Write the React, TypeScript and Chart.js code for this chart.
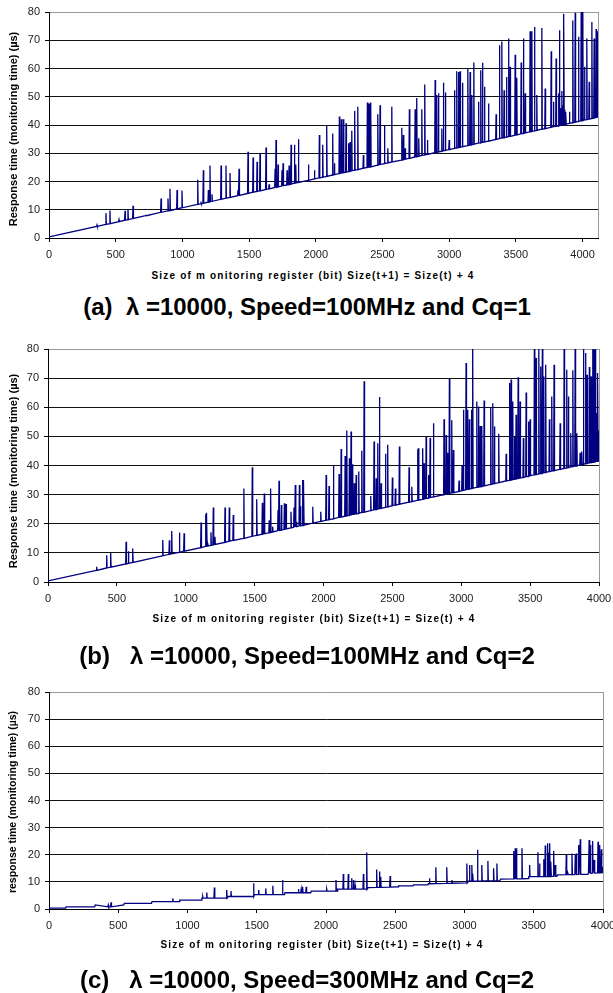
import { useEffect, useRef } from "react";
import { Chart, registerables } from "chart.js";

Chart.register(...registerables);

const FONT = "'Liberation Sans', Arial, sans-serif";

// Axis tick labels (shared by all three panels)
const xTickLabels = [0, 500, 1000, 1500, 2000, 2500, 3000, 3500, 4000];
const yTickLabels = [0, 10, 20, 30, 40, 50, 60, 70, 80];

// ---------- Panel (a): baseline vertices [size, time] and spikes [size, floor, peak]
const aBase: [number, number][] = [[0, 0.4], [4116, 42.8]];
const aSpikes: [number, number, number][] = [
  [360, 4.1, 4.6], [427, 4.8, 8.8], [457, 5.1, 9.7], [525, 5.8, 6.5], [570, 6.3, 9.6], [592, 6.5, 10.3],
  [630, 6.9, 11.4], [727, 7.9, 8.0], [840, 9.1, 14.0], [892, 9.6, 14.0], [907, 9.7, 17.4], [960, 10.3, 17.0],
  [997, 10.7, 16.8], [1115, 11.9, 20.6], [1140, 12.1, 12.5], [1157, 12.3, 24.0], [1195, 12.7, 17.0],
  [1207, 12.8, 25.7], [1222, 13.0, 15.5], [1290, 13.7, 25.7], [1327, 14.1, 25.7], [1357, 14.4, 23.0],
  [1417, 15.0, 17.0], [1425, 15.1, 24.5], [1492, 15.8, 30.5], [1530, 16.2, 28.5], [1560, 16.5, 27.0],
  [1582, 16.7, 30.0], [1627, 17.2, 32.0], [1650, 17.4, 19.0], [1695, 17.9, 24.5], [1702, 17.9, 34.7],
  [1717, 18.1, 26.0], [1747, 18.4, 24.0], [1755, 18.5, 26.5], [1785, 18.8, 24.0], [1800, 18.9, 25.7],
  [1815, 19.1, 33.0], [1840, 19.4, 33.0], [1850, 19.5, 26.0], [1870, 19.7, 35.0], [1945, 20.4, 26.0],
  [1990, 20.9, 24.0], [2027, 21.3, 36.5], [2052, 21.5, 33.0], [2082, 21.8, 39.8], [2127, 22.3, 37.0],
  [2140, 22.4, 26.5], [2177, 22.8, 43.0], [2192, 23.0, 42.0], [2207, 23.1, 42.0], [2227, 23.3, 40.6],
  [2245, 23.5, 33.5], [2257, 23.6, 34.0], [2270, 23.8, 38.0], [2292, 24.0, 45.0], [2315, 24.2, 46.5],
  [2357, 24.7, 29.4], [2387, 25.0, 48.0], [2400, 25.1, 47.6], [2412, 25.2, 48.0], [2465, 25.8, 43.8],
  [2482, 26.0, 47.0], [2515, 26.3, 40.0], [2540, 26.6, 31.8], [2570, 26.9, 46.5], [2645, 27.6, 39.0],
  [2657, 27.8, 36.5], [2670, 27.9, 31.8], [2702, 28.2, 45.6], [2745, 28.7, 45.6], [2757, 28.8, 49.6],
  [2772, 29.0, 35.3], [2795, 29.2, 45.6], [2817, 29.4, 54.3], [2837, 29.6, 34.7], [2895, 30.2, 55.9],
  [2907, 30.3, 50.6], [2920, 30.5, 51.2], [2945, 30.7, 38.8], [2957, 30.9, 55.0], [2972, 31.0, 51.5],
  [3000, 31.3, 34.7], [3040, 31.7, 52.3], [3057, 31.9, 59.0], [3070, 32.0, 58.8], [3082, 32.1, 59.0],
  [3100, 32.3, 55.0], [3140, 32.7, 60.2], [3157, 32.9, 58.8], [3170, 33.0, 50.6], [3185, 33.2, 62.1],
  [3220, 33.6, 48.2], [3237, 33.7, 59.4], [3250, 33.9, 62.0], [3265, 34.0, 53.5], [3295, 34.3, 47.6],
  [3352, 34.9, 43.8], [3377, 35.2, 68.2], [3395, 35.4, 69.6], [3412, 35.5, 52.3], [3430, 35.7, 57.0],
  [3445, 35.9, 70.6], [3457, 36.0, 60.6], [3495, 36.4, 64.9], [3507, 36.5, 56.7], [3540, 36.9, 62.1],
  [3557, 37.0, 70.6], [3570, 37.2, 51.2], [3607, 37.6, 73.2], [3620, 37.7, 73.2], [3640, 37.9, 74.7],
  [3657, 38.1, 50.6], [3695, 38.5, 74.3], [3720, 38.7, 52.9], [3765, 39.2, 66.1], [3782, 39.4, 48.2],
  [3802, 39.6, 63.5], [3820, 39.7, 51.2], [3827, 39.8, 73.5], [3835, 39.9, 46.0], [3845, 40.0, 52.0],
  [3852, 40.1, 47.0], [3860, 40.2, 79.4], [3868, 40.2, 45.5], [3875, 40.3, 44.7], [3902, 40.6, 44.7],
  [3927, 40.8, 77.0], [3945, 41.0, 79.7], [3970, 41.3, 71.2], [3990, 41.5, 82.0], [4002, 41.6, 82.0],
  [4015, 41.8, 60.6], [4032, 41.9, 70.6], [4050, 42.1, 55.3], [4070, 42.3, 76.5], [4087, 42.5, 70.6],
  [4102, 42.7, 74.0], [4113, 42.8, 73.2],
];

// ---------- Panel (b)
const bBase: [number, number][] = [[0, 0.4], [3996, 41.6], [4000, 52.0]];
const bSpikes: [number, number, number][] = [
  [353, 4.0, 5.2], [426, 4.8, 9.2], [455, 5.1, 10.0], [567, 6.2, 13.8], [584, 6.4, 10.6], [615, 6.7, 11.5],
  [833, 9.0, 14.4], [881, 9.5, 14.3], [898, 9.7, 17.5], [954, 10.2, 17.0], [988, 10.6, 16.7],
  [1111, 11.8, 20.4], [1145, 12.2, 23.3], [1152, 12.3, 23.8], [1161, 12.4, 13.2], [1183, 12.6, 17.1],
  [1200, 12.8, 25.6], [1212, 12.9, 15.5], [1285, 13.6, 25.6], [1316, 14.0, 25.6], [1345, 14.3, 23.0],
  [1422, 15.0, 32.1], [1483, 15.7, 39.4], [1515, 16.0, 28.4], [1556, 16.4, 27.2], [1570, 16.6, 30.4],
  [1606, 16.9, 21.2], [1616, 17.0, 32.1], [1631, 17.2, 19.0], [1670, 17.6, 24.7], [1677, 17.7, 34.8],
  [1694, 17.8, 26.4], [1716, 18.1, 27.0], [1728, 18.2, 26.8], [1764, 18.6, 24.1], [1786, 18.8, 25.6],
  [1795, 18.9, 33.3], [1803, 19.0, 20.7], [1825, 19.2, 33.3], [1832, 19.3, 26.0], [1849, 19.4, 35.0],
  [1856, 19.5, 35.0], [1922, 20.2, 25.8], [1980, 20.8, 24.1], [2019, 21.2, 36.7], [2040, 21.4, 33.0],
  [2072, 21.7, 39.8], [2113, 22.2, 37.1], [2128, 22.3, 45.7], [2157, 22.6, 43.3], [2169, 22.7, 52.0],
  [2188, 22.9, 42.5], [2200, 23.1, 51.7], [2212, 23.2, 40.4], [2224, 23.3, 33.9], [2237, 23.4, 36.7],
  [2256, 23.6, 37.9], [2278, 23.9, 45.1], [2295, 24.0, 68.9], [2343, 24.5, 29.5], [2367, 24.8, 48.2],
  [2382, 24.9, 35.6], [2394, 25.1, 47.6], [2406, 25.2, 63.5], [2418, 25.3, 33.9], [2450, 25.6, 44.0],
  [2466, 25.8, 47.1], [2500, 26.2, 35.9], [2522, 26.4, 32.1], [2551, 26.7, 46.5], [2621, 27.4, 39.4],
  [2641, 27.6, 32.7], [2682, 28.0, 45.6], [2689, 28.1, 45.9], [2720, 28.4, 45.9], [2730, 28.5, 40.8],
  [2745, 28.7, 49.9], [2762, 28.8, 36.7], [2774, 29.0, 49.4], [2798, 29.2, 54.5], [2875, 30.0, 55.9],
  [2890, 30.2, 50.5], [2902, 30.3, 44.4], [2914, 30.4, 69.7], [2931, 30.6, 55.5], [2943, 30.7, 45.3],
  [2984, 31.1, 34.8], [3006, 31.4, 40.2], [3016, 31.5, 59.1], [3035, 31.7, 75.2], [3047, 31.8, 59.1],
  [3059, 31.9, 55.9], [3074, 32.1, 59.1], [3083, 32.2, 82.0], [3113, 32.5, 62.0], [3125, 32.6, 60.3],
  [3137, 32.7, 53.6], [3149, 32.8, 53.6], [3166, 33.0, 62.3], [3214, 33.5, 60.0], [3229, 33.7, 61.4],
  [3241, 33.8, 53.4], [3272, 34.1, 50.9], [3326, 34.7, 44.0], [3350, 34.9, 68.3], [3362, 35.0, 69.5],
  [3374, 35.2, 62.0], [3386, 35.3, 49.9], [3398, 35.4, 57.4], [3413, 35.6, 70.3], [3427, 35.7, 62.0],
  [3451, 35.9, 49.4], [3471, 36.2, 65.1], [3488, 36.3, 55.1], [3500, 36.5, 55.9], [3531, 36.8, 82.0],
  [3543, 36.9, 76.9], [3563, 37.1, 82.0], [3577, 37.2, 74.0], [3589, 37.4, 82.0], [3599, 37.5, 70.6],
  [3613, 37.6, 74.6], [3640, 37.9, 55.9], [3657, 38.1, 63.7], [3674, 38.2, 74.6], [3718, 38.7, 54.5],
  [3747, 39.0, 82.0], [3766, 39.2, 72.9], [3778, 39.3, 63.7], [3795, 39.5, 51.1], [3810, 39.6, 72.7],
  [3827, 39.8, 82.0], [3839, 39.9, 51.1], [3863, 40.2, 44.4], [3875, 40.3, 44.8], [3887, 40.4, 82.0],
  [3902, 40.6, 78.6], [3913, 40.7, 71.2], [3930, 40.9, 73.8], [3943, 41.0, 70.6], [3955, 41.1, 82.0],
  [3964, 41.2, 79.8], [3974, 41.3, 82.0], [3984, 41.4, 58.0], [3991, 41.5, 71.8],
];

// ---------- Panel (c): staircase baseline and spikes
const cBase: [number, number][] = [
  [0, 0.3], [120, 0.3], [124, 0.8], [330, 0.8], [334, 1.5], [540, 1.5], [544, 2.1], [740, 2.1], [744, 2.7],
  [940, 2.7], [944, 3.3], [1100, 3.3], [1104, 4.0], [1290, 4.0], [1294, 4.6], [1480, 4.6], [1484, 5.3],
  [1700, 5.3], [1704, 6.0], [1890, 6.0], [1894, 6.6], [2080, 6.6], [2084, 7.3], [2300, 7.3], [2304, 7.9],
  [2520, 8.2], [2524, 8.5], [2628, 8.5], [2632, 8.9], [2736, 8.9], [2740, 9.3], [3025, 9.6], [3029, 10.3],
  [3256, 10.4], [3260, 11.0], [3460, 11.2], [3464, 11.9], [3667, 12.0], [3671, 12.6], [3891, 12.8],
  [3895, 13.2], [4000, 13.4],
];
const cSpikes: [number, number, number][] = [
  [428, 0.8, 1.5], [448, 0.8, 2.5], [894, 2.7, 3.9], [1110, 4.0, 4.6], [1139, 4.0, 6.1], [1194, 4.0, 7.9],
  [1283, 4.0, 7.0], [1314, 4.6, 6.6], [1476, 4.6, 9.5], [1514, 5.3, 7.0], [1565, 5.3, 7.6], [1616, 5.3, 8.6],
  [1686, 5.3, 10.7], [1801, 6.0, 7.4], [1821, 6.0, 7.3], [1831, 6.0, 8.2], [1857, 6.0, 8.2], [2005, 6.6, 7.3],
  [2072, 6.6, 10.7], [2125, 7.3, 12.9], [2161, 7.3, 12.9], [2186, 7.3, 11.3], [2198, 7.3, 10.7],
  [2210, 7.3, 8.8], [2270, 7.3, 12.9], [2294, 7.3, 20.8], [2366, 8.0, 14.6], [2386, 8.0, 13.8],
  [2395, 8.0, 11.9], [2463, 8.1, 12.2], [2747, 9.3, 11.3], [2793, 9.35, 15.4], [2872, 9.45, 15.4],
  [2909, 9.5, 10.7], [3017, 9.6, 16.8], [3036, 10.3, 16.2], [3053, 10.3, 16.2], [3060, 10.3, 13.1],
  [3094, 10.3, 21.8], [3125, 10.35, 16.2], [3169, 10.35, 17.7], [3210, 10.4, 15.0], [3234, 10.4, 16.8],
  [3354, 11.1, 21.4], [3366, 11.1, 22.4], [3374, 11.1, 22.4], [3415, 11.15, 22.4], [3470, 11.9, 16.2],
  [3530, 11.9, 20.9], [3542, 11.95, 16.8], [3571, 11.95, 18.3], [3583, 11.95, 23.4], [3600, 11.95, 24.2],
  [3607, 11.95, 20.8], [3615, 11.95, 24.2], [3624, 12.0, 17.5], [3644, 12.0, 21.5], [3656, 12.0, 16.2],
  [3735, 12.65, 20.3], [3747, 12.65, 13.1], [3776, 12.7, 20.5], [3800, 12.7, 20.3], [3807, 12.7, 20.5],
  [3824, 12.75, 23.6], [3836, 12.75, 25.7], [3900, 13.2, 25.4], [3908, 13.2, 23.6], [3925, 13.25, 25.1],
  [3937, 13.25, 18.1], [3964, 13.3, 24.8], [3976, 13.3, 23.6], [3988, 13.35, 22.0], [3998, 13.4, 15.6],
];

type Pt = { x: number; y: number };

function buildSeries(base: [number, number][], spikes: [number, number, number][]): Pt[] {
  const pts: Pt[] = base.map(([x, y]) => ({ x, y }));
  spikes.forEach(([x, floor, peak]) => {
    pts.push({ x: x - 3, y: floor }, { x, y: peak }, { x: x + 3, y: floor });
  });
  pts.sort((p, q) => p.x - q.x);
  return pts;
}

const rightBorder = {
  id: "rightBorder",
  afterDraw(chart: any) {
    const { ctx, chartArea } = chart;
    ctx.save();
    ctx.strokeStyle = "#9a9a9a";
    ctx.lineWidth = 1;
    ctx.beginPath();
    ctx.moveTo(Math.round(chartArea.right) + 0.5, chartArea.top);
    ctx.lineTo(Math.round(chartArea.right) + 0.5, chartArea.bottom);
    ctx.stroke();
    ctx.restore();
  },
};

type PanelProps = {
  top: number;
  height: number;
  padTop: number;
  padRight: number;
  axisLeft: number;
  axisBottomH: number;
  xMax: number;
  data: Pt[];
};

function Panel({ top, height, padTop, padRight, axisLeft, axisBottomH, xMax, data }: PanelProps) {
  const ref = useRef<HTMLCanvasElement | null>(null);
  useEffect(() => {
    if (!ref.current) return;
    const chart = new Chart(ref.current, {
      type: "line",
      data: {
        datasets: [
          {
            data: data as any,
            borderColor: "#000080",
            borderWidth: 1.3,
            pointRadius: 0,
            tension: 0,
            fill: false,
          },
        ],
      },
      options: {
        animation: false,
        responsive: false,
        events: [],
        plugins: { legend: { display: false }, tooltip: { enabled: false } },
        layout: { padding: { top: padTop, right: padRight, left: 0, bottom: 0 } },
        scales: {
          x: {
            type: "linear",
            min: 0,
            max: xMax,
            afterBuildTicks: (s: any) => {
              s.ticks = xTickLabels.map((v) => ({ value: v }));
            },
            afterFit: (s: any) => {
              s.height = axisBottomH;
              s.paddingLeft = 0;
              s.paddingRight = 0;
            },
            grid: { drawOnChartArea: false, drawTicks: true, tickLength: 4, color: "#000" },
            border: { color: "#000", width: 1 },
            ticks: {
              font: { family: FONT, size: 11 },
              color: "#222",
              padding: 6,
              maxRotation: 0,
              autoSkip: false,
              callback: (v: any) => String(v),
            },
          },
          y: {
            min: 0,
            max: 80,
            afterBuildTicks: (s: any) => {
              s.ticks = yTickLabels.map((v) => ({ value: v }));
            },
            afterFit: (s: any) => {
              s.width = axisLeft;
              s.paddingTop = 0;
              s.paddingBottom = 0;
            },
            grid: {
              color: (c: any) => (c.tick && c.tick.value === 80 ? "#9a9a9a" : "#111"),
              tickColor: "#000",
              tickLength: 4,
              lineWidth: 1,
            },
            border: { color: "#000", width: 1 },
            ticks: {
              font: { family: FONT, size: 11 },
              color: "#222",
              padding: 5,
              autoSkip: false,
              callback: (v: any) => String(v),
            },
          },
        },
      },
      plugins: [rightBorder],
    });
    return () => chart.destroy();
  }, []);
  return (
    <canvas
      ref={ref}
      width={613}
      height={height}
      style={{ position: "absolute", left: 0, top, width: 613, height }}
    />
  );
}

const textBase: React.CSSProperties = {
  position: "absolute",
  whiteSpace: "pre",
  lineHeight: 1,
  color: "#000",
  fontFamily: FONT,
  fontWeight: "bold",
};

function Label({ x, y, text, size, spacing = 0, rotate = false }: { x: number; y: number; text: string; size: number; spacing?: number; rotate?: boolean }) {
  return (
    <div
      style={{
        ...textBase,
        left: x,
        top: y,
        fontSize: size,
        letterSpacing: spacing,
        transform: `translate(-50%, -50%)${rotate ? " rotate(-90deg)" : ""}`,
      }}
    >
      {text}
    </div>
  );
}

const xTitle = "Size of m onitoring register (bit) Size(t+1) = Size(t) + 4";

export default function App() {
  const dataA = buildSeries(aBase, aSpikes);
  const dataB = buildSeries(bBase, bSpikes);
  const dataC = buildSeries(cBase, cSpikes);
  return (
    <div style={{ position: "absolute", left: 0, top: 0, width: 613, height: 993, background: "#fff", overflow: "hidden" }}>
      <Panel top={0} height={270} padTop={12} padRight={15} axisLeft={49} axisBottomH={32} xMax={4116} data={dataA} />
      <Panel top={330} height={285} padTop={19} padRight={14} axisLeft={48} axisBottomH={33} xMax={4000} data={dataB} />
      <Panel top={670} height={270} padTop={22} padRight={10} axisLeft={49} axisBottomH={31} xMax={4000} data={dataC} />

      <Label x={13} y={129} text="Response time (monitoring time) (µs)" size={11} rotate />
      <Label x={13} y={471} text="Response time (monitoring time) (µs)" size={11} rotate />
      <Label x={12} y={802} text="response time (monitoring time) (µs)" size={10.5} rotate />

      <Label x={313} y={276} text={xTitle} size={10} spacing={1.2} />
      <Label x={314} y={619} text={xTitle} size={10} spacing={1.2} />
      <Label x={322} y={945} text={xTitle} size={10} spacing={1.2} />

      <Label x={307} y={307} text={"(a)  λ =10000, Speed=100MHz and Cq=1"} size={24} />
      <Label x={307} y={656} text={"(b)   λ =10000, Speed=100MHz and Cq=2"} size={24} />
      <Label x={307} y={980} text={"(c)   λ =10000, Speed=300MHz and Cq=2"} size={24} />
    </div>
  );
}
